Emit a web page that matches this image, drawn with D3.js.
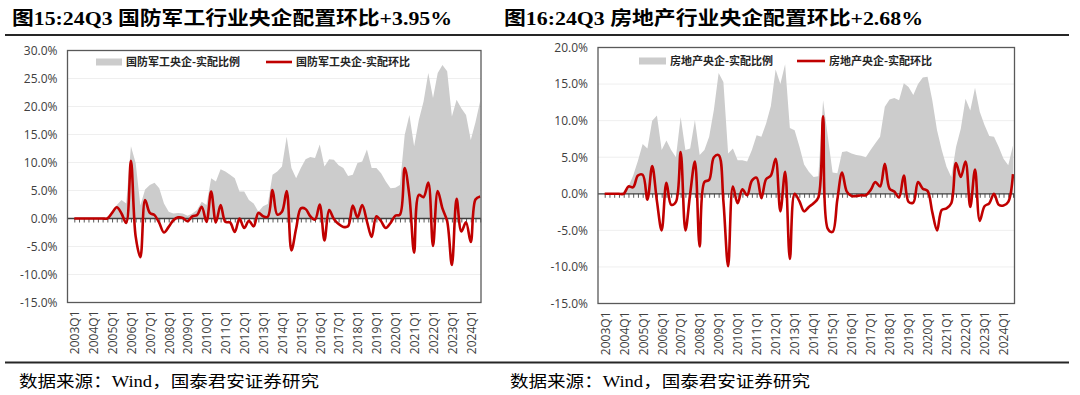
<!DOCTYPE html>
<html><head><meta charset="utf-8">
<script src="https://cdn.jsdelivr.net/npm/d3@7"></script>
<style>html,body{margin:0;padding:0;background:#fff;} svg{display:block;}</style>
</head><body>
<svg id="c" width="1080" height="395"></svg>
<script>
// ---- categories ----
const quarters = [];
for (let yr = 2003; yr <= 2024; yr++) for (let q = 1; q <= 4; q++) { if (yr === 2024 && q > 3) break; quarters.push(yr + "Q" + q); }
const yearLabels = quarters.filter(q => q.endsWith("Q1"));

// ---- titles / labels ----
const titleLeft = "图15:24Q3 国防军工行业央企配置环比+3.95%";
const titleRight = "图16:24Q3 房地产行业央企配置环比+2.68%";
const sourceText = "数据来源：Wind，国泰君安证券研究";
const legendLeft = ["国防军工央企-实配比例", "国防军工央企-实配环比"];
const legendRight = ["房地产央企-实配比例", "房地产央企-实配环比"];
const yTicksLeft = [-15, -10, -5, 0, 5, 10, 15, 20, 25, 30];
const yTicksRight = [-15, -10, -5, 0, 5, 10, 15, 20];

// ---- series (%): 国防军工 ----
const defenseRatio = [0,0,0,0,0,0,0,0,1.2,2.4,3.3,2.7,12.9,9.9,2.3,5.2,6.0,6.4,5.4,2.7,1.2,0.9,1.0,0.9,0.5,0.9,1.5,3.0,2.4,7.2,6.6,8.8,8.4,7.8,7.2,4.8,4.8,3.3,2.7,1.2,2.2,2.6,7.8,8.4,9.3,14.6,9.0,7.2,9.0,10.6,11.0,10.8,13.2,9.3,10.6,10.5,9.5,9.0,7.6,7.8,9.9,10.2,12.3,9.0,9.0,8.1,6.6,5.4,5.5,6.0,14.9,18.5,12.9,17.6,20.9,26.0,21.5,26.0,27.4,26.3,18.2,21.2,19.7,18.5,14.0,17.2,21.0];
const defenseQoQ = [0,0,0,0,0,0,0,0,1.0,2.0,0.9,-0.8,10.3,-3.2,-6.9,3.3,1.0,0.6,-0.8,-2.5,-1.5,-0.3,0.2,0.1,-0.5,0.4,0.6,2.1,-0.6,4.8,-0.7,2.4,-0.6,-0.7,-2.4,0.0,-1.7,-0.4,-1.4,1.0,0.4,0.3,5.1,0.7,1.2,4.9,-5.7,-1.8,1.8,1.7,0.4,-0.2,2.5,-3.9,1.5,-0.1,-1.0,-1.5,-1.4,2.3,0.2,2.4,-0.5,-3.3,0.4,-0.5,-1.7,-0.8,0.5,0.7,9.0,4.0,-6.1,4.2,3.8,6.4,-4.9,4.9,1.8,-0.5,-8.3,3.5,-2.3,-0.7,-4.2,3.4,3.95];

// ---- series (%): 房地产 ----
const estateRatio = [0,0,0,0,0.3,1.0,2.5,4.5,6.8,6.2,10.0,10.7,6.0,7.3,6.0,5.0,10.5,6.0,6.2,10.1,5.3,6.0,7.8,11.5,16.5,15.3,5.5,6.2,4.6,4.6,4.4,6.0,8.0,7.8,9.6,12.0,17.0,15.0,17.7,9.0,8.7,6.5,4.0,3.0,2.3,2.4,12.8,7.8,2.9,2.8,5.7,5.8,5.5,5.3,5.2,5.0,6.0,6.9,7.8,11.9,12.9,13.1,12.8,15.1,14.6,13.5,15.0,15.9,16.0,12.8,8.7,6.0,3.7,2.3,6.4,8.9,13.0,11.4,14.5,11.2,9.4,7.9,7.8,6.4,4.8,3.9,6.6];
const estateQoQ = [0,0,0,0,0,1.0,0.9,2.5,2.6,-0.8,3.8,-1.0,-5.0,1.5,-1.5,-1.1,5.7,-5.0,0.0,4.4,-7.2,1.6,1.9,5.0,5.3,-1.0,-9.9,1.0,-1.3,0.6,-0.2,1.8,2.2,-0.6,2.0,2.5,4.8,-2.4,3.0,-8.9,0.0,-1.0,-2.4,-1.8,-1.3,-0.5,10.6,-4.8,-5.2,-0.8,2.9,0.3,-0.3,-0.3,-0.2,-0.2,0.5,1.6,1.0,4.1,0.7,0.3,-0.5,2.5,-1.1,-1.2,1.6,0.7,0.4,-2.5,-5.0,-2.2,-2.0,-1.3,4.2,2.3,4.4,-1.8,3.3,-3.7,-1.7,-1.3,0.0,-1.5,-1.6,-1.1,2.7];

const GRAY = "#cccccc", RED = "#c00000", AXIS = "#595959", TXT = "#404040";
const svg = d3.select("#c");
svg.append("rect").attr("width", 1080).attr("height", 395).attr("fill", "#fff");

function panel(cfg) {
  const g = svg.append("g");
  const x = d3.scalePoint().domain(quarters).range([cfg.px0, cfg.px1]);
  const y = d3.scaleLinear().domain([cfg.yMin, cfg.yMax]).range([cfg.y1, cfg.y0]);

  // gridlines
  g.append("g").selectAll("line").data(cfg.yTicks).join("line")
    .attr("x1", cfg.x0).attr("x2", cfg.x1)
    .attr("y1", d => y(d)).attr("y2", d => y(d))
    .attr("stroke", "#efefef").attr("stroke-width", 1);

  // area
  const area = d3.area().x((d, i) => x(quarters[i])).y0(y(0)).y1(d => y(d));
  g.append("path").datum(cfg.ratio).attr("d", area).attr("fill", GRAY);

  // zero axis with ticks
  const zeroAxis = d3.axisBottom(x).tickSize(4).tickFormat("");
  const za = g.append("g").attr("transform", `translate(0,${y(0)})`).call(zeroAxis);
  za.select(".domain").remove();
  za.selectAll(".tick line").attr("stroke", AXIS).attr("stroke-width", 1);
  g.append("line").attr("x1", cfg.x0).attr("x2", cfg.x1).attr("y1", y(0)).attr("y2", y(0))
    .attr("stroke", "#404040").attr("stroke-width", 1.3);

  // red line
  const line = d3.line().x((d, i) => x(quarters[i])).y(d => y(d)).curve(d3.curveCatmullRom.alpha(0.5));
  g.append("path").datum(cfg.qoq).attr("d", line).attr("fill", "none")
    .attr("stroke", RED).attr("stroke-width", 2.6).attr("stroke-linejoin", "round");

  // frame
  g.append("rect").attr("x", cfg.x0).attr("y", cfg.y0).attr("width", cfg.x1 - cfg.x0).attr("height", cfg.y1 - cfg.y0)
    .attr("fill", "none").attr("stroke", AXIS).attr("stroke-width", 1.3);

  // y axis labels
  const ya = g.append("g").attr("transform", `translate(${cfg.x0},0)`)
    .call(d3.axisLeft(y).tickValues(cfg.yTicks).tickSize(0).tickPadding(10).tickFormat(d => d.toFixed(1) + "%"));
  ya.select(".domain").remove();
  ya.selectAll("text").attr("font-family", "'Open Sans', sans-serif").attr("font-size", 12).attr("fill", TXT);

  // x axis labels (rotated)
  const xa = g.append("g").attr("transform", `translate(0,${cfg.y1})`)
    .call(d3.axisBottom(x).tickValues(yearLabels).tickSize(0));
  xa.select(".domain").remove();
  xa.selectAll("text").attr("font-family", "'Open Sans', sans-serif").attr("font-size", 12).attr("fill", TXT)
    .attr("text-anchor", "end").attr("transform", "rotate(-90)")
    .attr("x", -8).attr("y", 0).attr("dy", "0.36em");

  // legend
  const lg = g.append("g").attr("font-family", "'Noto Sans CJK SC', sans-serif").attr("font-size", 11)
    .attr("font-weight", "bold").attr("fill", "#262626");
  lg.append("rect").attr("x", cfg.lg.sw).attr("y", cfg.lg.y - 3.5).attr("width", cfg.lg.swW).attr("height", 7).attr("fill", GRAY);
  lg.append("text").attr("x", cfg.lg.t1).attr("y", cfg.lg.y).attr("dy", "0.36em").text(cfg.legend[0]);
  lg.append("line").attr("x1", cfg.lg.l1).attr("x2", cfg.lg.l2).attr("y1", cfg.lg.y).attr("y2", cfg.lg.y)
    .attr("stroke", RED).attr("stroke-width", 2.6);
  lg.append("text").attr("x", cfg.lg.t2).attr("y", cfg.lg.y).attr("dy", "0.36em").text(cfg.legend[1]);

  // title
  svg.append("text").attr("x", cfg.titleX).attr("y", 25)
    .attr("font-family", "'Liberation Serif', 'Noto Sans CJK SC', serif").attr("font-weight", "bold")
    .attr("font-size", 19).attr("fill", "#000")
    .attr("textLength", cfg.titleLen).attr("lengthAdjust", "spacingAndGlyphs").text(cfg.title);
  // source
  svg.append("text").attr("x", cfg.srcX).attr("y", 387)
    .attr("font-family", "'Liberation Serif', 'Noto Sans CJK SC', serif")
    .attr("font-size", 16).attr("fill", "#000")
    .attr("textLength", 300).attr("lengthAdjust", "spacingAndGlyphs").text(sourceText);
}

panel({
  x0: 67.5, x1: 481, y0: 50.5, y1: 302.5, px0: 74.3, px1: 480.2, yMin: -15, yMax: 30, yTicks: yTicksLeft,
  ratio: defenseRatio, qoq: defenseQoQ, legend: legendLeft, title: titleLeft, titleX: 12, titleLen: 440, srcX: 19,
  lg: { y: 62, sw: 96, swW: 26, t1: 126, l1: 266, l2: 292, t2: 296 }
});
panel({
  x0: 598, x1: 1014.5, y0: 47.5, y1: 303.5, px0: 604.7, px1: 1013, yMin: -15, yMax: 20, yTicks: yTicksRight,
  ratio: estateRatio, qoq: estateQoQ, legend: legendRight, title: titleRight, titleX: 504, titleLen: 419, srcX: 510,
  lg: { y: 61, sw: 639, swW: 27, t1: 670, l1: 797, l2: 825, t2: 829 }
});

// horizontal rules
svg.append("line").attr("x1", 5).attr("x2", 1069).attr("y1", 35).attr("y2", 35).attr("stroke", "#262626").attr("stroke-width", 1.8);
svg.append("line").attr("x1", 5).attr("x2", 1069).attr("y1", 362.5).attr("y2", 362.5).attr("stroke", "#262626").attr("stroke-width", 1.8);
</script>
</body></html>
